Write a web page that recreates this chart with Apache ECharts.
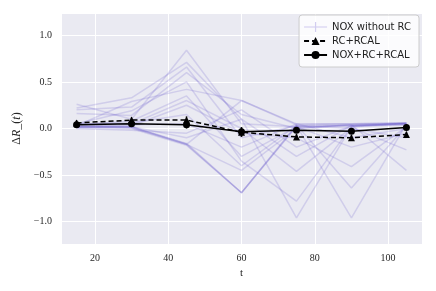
<!DOCTYPE html>
<html><head><meta charset="utf-8">
<script src="https://cdn.jsdelivr.net/npm/echarts@6/dist/echarts.min.js"></script>
<style>html,body{margin:0;padding:0;background:#fff}#c{width:436px;height:291px}</style>
</head><body><div id="c"></div>
<script>
// ---- data ----
const tValues = [15, 30, 45, 60, 75, 90, 105];

const noxLine01 = [0.26, 0.10, 0.84, 0.05, 0.02, 0.03, 0.05];
const noxLine02 = [0.22, 0.33, 0.71, 0.10, -0.96, 0.02, 0.04];
const noxLine03 = [0.20, 0.23, 0.66, -0.10, 0.03, -0.96, 0.05];
const noxLine04 = [0.16, 0.14, 0.60, 0.15, 0.00, 0.04, -0.45];
const noxLine05 = [0.05, 0.19, 0.50, -0.35, -0.78, 0.02, 0.06];
const noxLine06 = [0.03, 0.29, 0.42, 0.30, 0.04, -0.64, 0.03];
const noxLine07 = [0.02, 0.02, -0.17, 0.30, 0.05, 0.05, 0.06];
const noxLine08 = [0.02, 0.01, -0.17, -0.69, 0.03, 0.04, 0.05];
const noxLine09 = [0.01, 0.00, -0.18, -0.69, 0.02, 0.03, 0.05];
const noxLine10 = [0.03, 0.02, -0.16, -0.69, 0.04, 0.05, 0.06];
const noxLine11 = [0.04, 0.05, 0.30, 0.00, -0.46, 0.01, -0.23];
const noxLine12 = [0.02, 0.03, 0.25, -0.05, -0.10, -0.41, 0.02];
const noxLine13 = [0.05, 0.06, 0.15, -0.40, 0.03, 0.00, -0.10];
const noxLine14 = [0.00, -0.02, -0.05, 0.20, -0.20, 0.03, 0.04];
const noxLine15 = [0.03, 0.04, 0.05, -0.20, 0.05, -0.10, 0.00];
const noxLine16 = [0.01, 0.02, -0.10, 0.10, -0.30, 0.03, 0.05];
const noxLine17 = [0.04, 0.08, 0.35, -0.30, 0.02, -0.20, -0.05];
const noxLine18 = [0.02, 0.01, -0.17, -0.45, 0.00, 0.04, 0.06];
const noxWithoutRC = [noxLine01, noxLine02, noxLine03, noxLine04, noxLine05, noxLine06,
  noxLine07, noxLine08, noxLine09, noxLine10, noxLine11, noxLine12, noxLine13, noxLine14,
  noxLine15, noxLine16, noxLine17, noxLine18];

const rcRcal = [0.06, 0.09, 0.09, -0.04, -0.09, -0.10, -0.065];
const rcRcalErr = [0.03, 0.03, 0.04, 0.05, 0.03, 0.03, 0.03];
const noxRcRcal = [0.04, 0.05, 0.04, -0.035, -0.02, -0.03, 0.01];
const noxRcRcalErr = [0.03, 0.03, 0.04, 0.05, 0.03, 0.03, 0.03];

const legendNames = ['NOX without RC', 'RC+RCAL', 'NOX+RC+RCAL'];

// ---- chart ----
const chart = echarts.init(document.getElementById('c'), null, {renderer: 'canvas'});
const pair = arr => tValues.map((t, i) => [t, arr[i]]);
const errData = (v, e) => tValues.map((t, i) => [t, v[i] - e[i], v[i] + e[i]]);
function errRender(params, api) {
  const p1 = api.coord([api.value(0), api.value(1)]);
  const p2 = api.coord([api.value(0), api.value(2)]);
  return {type: 'line', shape: {x1: p1[0], y1: p1[1], x2: p2[0], y2: p2[1]},
    style: {stroke: '#000', lineWidth: 1.5}};
}
const serif = 'Liberation Serif';
const series = [];
noxWithoutRC.forEach(line => {
  series.push({name: legendNames[0], type: 'line', data: pair(line), symbol: 'none',
    lineStyle: {color: 'rgba(106,90,205,0.2)', width: 1.5}, itemStyle: {color: 'rgba(106,90,205,0.25)'},
    silent: true, z: 2});
});
series.push({name: legendNames[1], type: 'line', data: pair(rcRcal), symbol: 'triangle', symbolSize: 7,
  lineStyle: {color: '#000', width: 1.5, type: [5, 3]}, itemStyle: {color: '#000'}, z: 5});
series.push({name: legendNames[2], type: 'line', data: pair(noxRcRcal), symbol: 'circle', symbolSize: 7,
  lineStyle: {color: '#000', width: 1.5}, itemStyle: {color: '#000'}, z: 5});
series.push({type: 'custom', renderItem: errRender, data: errData(rcRcal, rcRcalErr), encode: {x: 0, y: [1, 2]}, z: 5, silent: true});
series.push({type: 'custom', renderItem: errRender, data: errData(noxRcRcal, noxRcRcalErr), encode: {x: 0, y: [1, 2]}, z: 5, silent: true});

const plusIcon = 'path://M0,4.4 L23,4.4 L23,5.6 L0,5.6 Z M10.9,0 L12.1,0 L12.1,10 L10.9,10 Z';
const fmtMinus = s => String(s).replace('-', '\u2212');
chart.setOption({
  animation: false,
  backgroundColor: '#fff',
  grid: {left: 61, top: 13, right: 14, bottom: 47, show: true, backgroundColor: '#EAEAF2', borderWidth: 0},
  xAxis: {type: 'value', min: 10.75, max: 109.25, splitNumber: 5,
    name: 't', nameLocation: 'middle', nameGap: 24,
    nameTextStyle: {fontFamily: serif, fontSize: 11, color: '#262626'},
    axisLine: {show: false}, axisTick: {show: false},
    splitLine: {show: true, lineStyle: {color: '#fff', width: 1}},
    axisLabel: {fontFamily: serif, fontSize: 10, color: '#262626', margin: 9,
      formatter: v => (Math.abs(v / 20 - Math.round(v / 20)) < 1e-6 ? String(v) : '')}},
  yAxis: {type: 'value', min: -1.24, max: 1.24, splitNumber: 5,
    name: '\u0394{i|R}_({i|t})', nameLocation: 'middle', nameGap: 35, nameRotate: 90,
    nameTextStyle: {fontFamily: serif, fontSize: 12, color: '#262626',
      rich: {i: {fontFamily: serif, fontStyle: 'italic', fontSize: 12, color: '#262626'}}},
    axisLine: {show: false}, axisTick: {show: false},
    splitLine: {show: true, lineStyle: {color: '#fff', width: 1}},
    axisLabel: {fontFamily: serif, fontSize: 10, color: '#262626', margin: 9,
      formatter: v => (Math.abs(v / 0.5 - Math.round(v / 0.5)) < 1e-6 ? fmtMinus(v.toFixed(1)) : '')}},
  legend: {data: [
      {name: legendNames[0], icon: plusIcon, itemStyle: {color: 'rgba(106,90,205,0.3)'}},
      {name: legendNames[1]},
      {name: legendNames[2]}],
    orient: 'vertical', right: 17, top: 15, itemWidth: 23, itemHeight: 10, itemGap: 4,
    padding: [7, 8, 7, 4], backgroundColor: 'rgba(255,255,255,0.8)', borderColor: '#cccccc', borderWidth: 1,
    borderRadius: 3, textStyle: {fontFamily: 'DejaVu Sans', fontSize: 10, color: '#222'}},
  series: series
});
</script></body></html>
